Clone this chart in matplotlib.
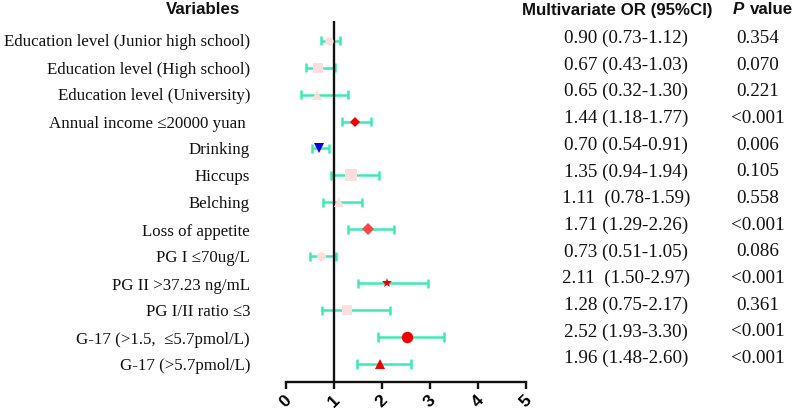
import matplotlib
matplotlib.use('Agg')
import matplotlib.pyplot as plt

labels = ['Education level (Junior high school)', 'Education level (High school)',
          'Education level (University)', 'Annual income \u226420000 yuan ', 'Drinking', 'Hiccups',
          'Belching', 'Loss of appetite', 'PG I \u226470ug/L', 'PG II >37.23 ng/mL',
          'PG I/II ratio \u22643', 'G-17 (>1.5,  \u22645.7pmol/L)', 'G-17 (>5.7pmol/L)']
or_val = [0.90, 0.67, 0.65, 1.44, 0.70, 1.35, 1.11, 1.71, 0.73, 2.11, 1.28, 2.52, 1.96]
ci_low = [0.73, 0.43, 0.32, 1.18, 0.54, 0.94, 0.78, 1.29, 0.51, 1.50, 0.75, 1.93, 1.48]
ci_high = [1.12, 1.03, 1.30, 1.77, 0.91, 1.94, 1.59, 2.26, 1.05, 2.97, 2.17, 3.30, 2.60]
or_text = ['0.90 (0.73-1.12)', '0.67 (0.43-1.03)', '0.65 (0.32-1.30)', '1.44 (1.18-1.77)',
           '0.70 (0.54-0.91)', '1.35 (0.94-1.94)', '1.11  (0.78-1.59)', '1.71 (1.29-2.26)',
           '0.73 (0.51-1.05)', '2.11  (1.50-2.97)', '1.28 (0.75-2.17)', '2.52 (1.93-3.30)',
           '1.96 (1.48-2.60)']
p_text = ['0.354', '0.070', '0.221', '<0.001', '0.006', '0.105', '0.558', '<0.001', '0.086',
          '<0.001', '0.361', '<0.001', '<0.001']
markers = ['o', 's', '^', 'D', 'v', 's', '^', 'D', 'o', '*', 's', 'o', '^']
colors = ['#fbdedd', '#fbdedd', '#fbdedd', '#f00000', '#0000e0', '#fbdedd', '#fbdedd', '#f5474a',
          '#fbdedd', '#f00000', '#fbdedd', '#f00000', '#f00000']
sizes = [6, 7, 7, 5.2, 7, 8.2, 7.5, 6.6, 6.5, 7.5, 6.5, 8.2, 7.5]

W, H = 800, 413
fig = plt.figure(figsize=(W/100, H/100), dpi=100)
ax = fig.add_axes([285.7/W, 1-381.7/H, (526-285.7)/W, (381.7-21)/H])
ax.set_xlim(0, 5)
ax.set_ylim(-0.657, 12.73)

rows = [12-i for i in range(len(labels))]
for i, y in enumerate(rows):
    ax.plot([ci_low[i], ci_high[i]], [y, y], color='#3deab5', lw=1.8, zorder=2, solid_capstyle='butt')
    for c in (ci_low[i], ci_high[i]):
        ax.plot([c, c], [y-0.17, y+0.17], color='#3deab5', lw=1.8, zorder=2, solid_capstyle='butt')
    ax.plot(or_val[i], y, marker=markers[i], color=colors[i], ms=sizes[i], mew=0, zorder=4, ls='none')
ax.axvline(1, color='#111111', lw=1.7, zorder=3)

for s in ['top', 'right', 'left']:
    ax.spines[s].set_visible(False)
ax.spines['bottom'].set_linewidth(1.7)
ax.spines['bottom'].set_color('#111111')
ax.set_yticks([])
ax.set_xticks([0, 1, 2, 3, 4, 5])
ax.tick_params(axis='x', length=5, width=1.7, color='#111111', pad=3)
for t in ax.get_xticklabels():
    t.set_rotation(45)
    t.set_ha('center')
    t.set_fontsize(12.5)
    t.set_fontweight('bold')
    t.set_family('Liberation Sans')

# text columns sit in figure pixels, the right two drift a little from the rows
for i in range(len(labels)):
    fig.text(250/W, 1-(42.5+27*i)/H, labels[i], ha='right', va='center', family='Liberation Serif', fontsize=12.15, color='#111111')
    fig.text(626/W, 1-(38.5+26.67*i)/H, or_text[i], ha='center', va='center', family='Liberation Serif', fontsize=13.8, color='#111111')
    fig.text(758/W, 1-(38.5+26.67*i)/H, p_text[i], ha='center', va='center', family='Liberation Serif', fontsize=13.8, color='#111111')

head = 1-10/H
bold = dict(va='center', family='Liberation Sans', fontweight='bold', fontsize=12.2, color='#111111')
fig.text(203/W, head, 'Variables', ha='center', **bold)
fig.text(617/W, head, 'Multivariate OR (95%CI)', ha='center', **bold)
fig.text(733/W, head, 'P', ha='left', style='italic', **bold)
fig.text(750/W, head, 'value', ha='left', **bold)

fig.savefig('out.png', dpi=100)
